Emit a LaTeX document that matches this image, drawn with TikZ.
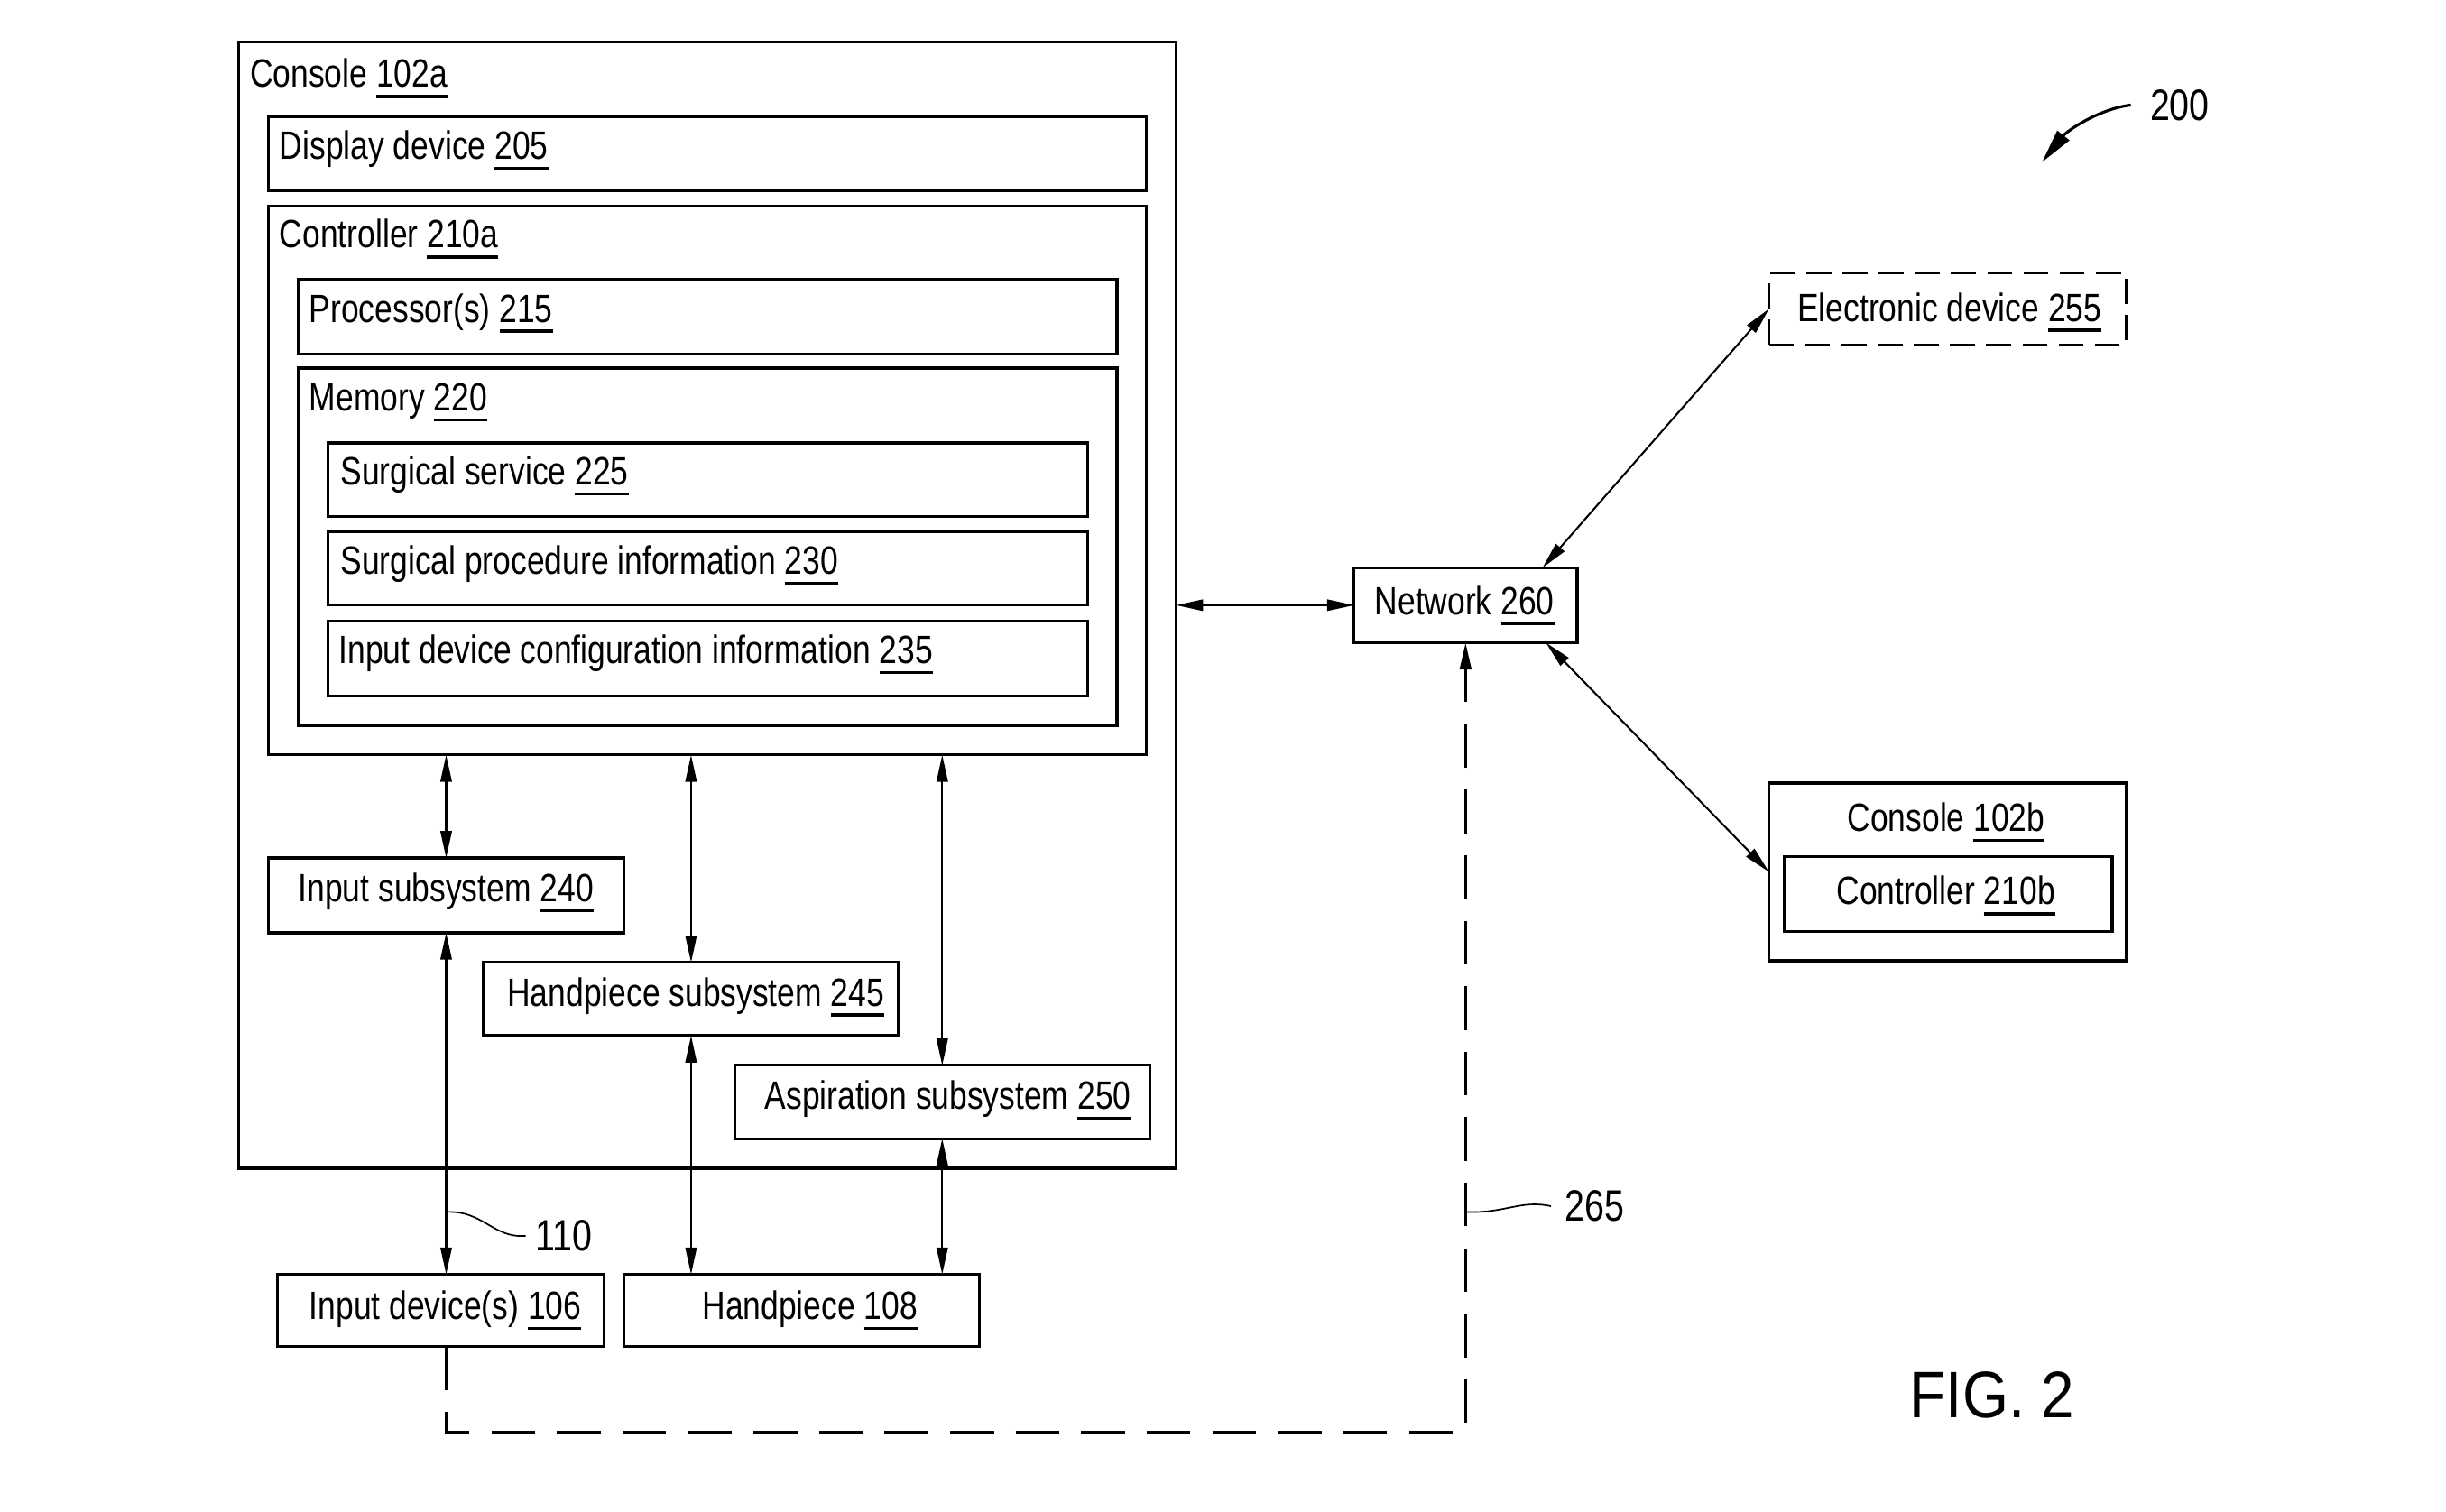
\documentclass[tikz,border=0pt]{standalone}
\usepackage{fontspec}
\setmainfont[FakeStretch=0.81]{Liberation Sans}
\newfontfamily\figfont[FakeStretch=0.9]{Liberation Sans}
\usetikzlibrary{arrows.meta,fit,calc}
\newlength\refw
\newcommand\refnum[1]{\settowidth\refw{#1}\rlap{\rule[-0.17cm]{\refw}{0.05cm}}#1}
\begin{document}
\begin{tikzpicture}[x=0.025cm,y=-0.025cm,
 box/.style={draw, line width=1.3pt, inner sep=0pt, outer sep=0pt},
 dbox/.style={box, dash pattern=on 0.4cm off 0.18cm},
 lbl/.style={anchor=base west, inner sep=0pt, font=\fontsize{18}{21}\selectfont},
 numlbl/.style={anchor=base west, inner sep=0pt, font=\fontsize{20}{24}\selectfont},
 conn/.style={line width=0.85pt, {Triangle[length=0.43cm,width=0.18cm]}-{Triangle[length=0.43cm,width=0.18cm]}},
 lead/.style={line width=0.7pt},
 dashpath/.style={line width=1.4pt, dash pattern=on 0.7cm off 0.35cm, -{Triangle[length=0.43cm,width=0.18cm]}}
]
\useasboundingbox (0,0) rectangle (1568,969);
% boxes
\node[box, fit={(153,27) (754,749)}] (con) {};
\node[lbl] at (160,56) {Console \refnum{102a}};
\node[box, fit={(172,75) (735,122)}] (disp) {};
\node[lbl] at (179,102) {Display device \refnum{205}};
\node[box, fit={(172,132) (735,484)}] (ctrl) {};
\node[lbl] at (179,159) {Controller \refnum{210a}};
\node[box, fit={(191,179) (716,227)}] (proc) {};
\node[lbl] at (198,206.5) {Processor(s) \refnum{215}};
\node[box, fit={(191,236) (716,465)}] (mem) {};
\node[lbl] at (198,263.5) {Memory \refnum{220}};
\node[box, fit={(210,284) (697,331)}] (ss) {};
\node[lbl] at (218,311) {Surgical service \refnum{225}};
\node[box, fit={(210,341) (697,388)}] (spi) {};
\node[lbl] at (218,368) {Surgical procedure information \refnum{230}};
\node[box, fit={(210,398) (697,446)}] (idc) {};
\node[lbl] at (217,425.5) {Input device configuration information \refnum{235}};
\node[box, fit={(172,550) (400,598)}] (isub) {};
\node[lbl] at (191,578) {Input subsystem \refnum{240}};
\node[box, fit={(310,617) (576,664)}] (hsub) {};
\node[lbl] at (325,645) {Handpiece subsystem \refnum{245}};
\node[box, fit={(471,683) (737,730)}] (asp) {};
\node[lbl] at (490,711) {Aspiration subsystem \refnum{250}};
\node[box, fit={(178,817) (387,863)}] (idev) {};
\node[lbl] at (198,846) {Input device(s) \refnum{106}};
\node[box, fit={(400,817) (628,863)}] (hp) {};
\node[lbl] at (450,846) {Handpiece \refnum{108}};
\node[box, fit={(868,364) (1011,412)}] (net) {};
\node[lbl] at (881,394) {Network \refnum{260}};
\node[dbox, fit={(1134,175) (1363,221)}] (edev) {};
\node[lbl] at (1152,206) {Electronic device \refnum{255}};
\node[box, fit={(1134,502) (1363,616)}] (conb) {};
\node[lbl] at (1184,533) {Console \refnum{102b}};
\node[box, fit={(1144,549) (1354,597)}] (ctrlb) {};
\node[lbl] at (1177,580) {Controller \refnum{210b}};
% reference numerals
\node[numlbl] (n200) at (1378,77) {200};
\node[numlbl] (n110) at (343,802) {110};
\node[numlbl] (n265) at (1003,783) {265};
\node[anchor=base west, inner sep=0pt, font=\figfont\fontsize{30}{36}\selectfont] (fig) at (1224,909) {FIG. 2};
% connectors
\draw[conn] (isub.north |- ctrl.south) -- (isub.north);
\draw[conn] (hsub.north |- ctrl.south) -- (hsub.north);
\draw[conn] (asp.north |- ctrl.south) -- (asp.north);
\draw[conn] (isub.south) -- (isub.south |- idev.north);
\draw[conn] (hsub.south) -- (hsub.south |- hp.north);
\draw[conn] (asp.south) -- (asp.south |- hp.north);
\draw[conn] (con.east |- net.west) -- (net.west);
\draw[conn] ($(net.north)!0.69!(net.north east)$) -- (edev.west);
\draw[conn] ($(net.south)!0.72!(net.south east)$) -- (conb.west);
% dashed link 265
\coordinate (d1) at (286,918);
\coordinate (d2) at (net.south |- d1);
\draw[dashpath] (isub.south |- idev.south) -- (d1) -- (d2) -- (net.south);
% leaders
\coordinate (l110) at (286,777);
\draw[lead] (l110) .. controls (310,776) and (316,794) .. ([xshift=-0.15cm]n110.west);
\coordinate (l265) at (940,777);
\draw[lead] (l265) .. controls (965,778) and (975,769) .. ([xshift=-0.22cm]n265.west);
\coordinate (a200) at (1309,104);
\draw[line width=1.3pt, -{Triangle[length=0.55cm,width=0.24cm]}] ([xshift=-0.3cm]n200.west) .. controls (1345,70) and (1325,84) .. (a200);
\end{tikzpicture}
\end{document}
